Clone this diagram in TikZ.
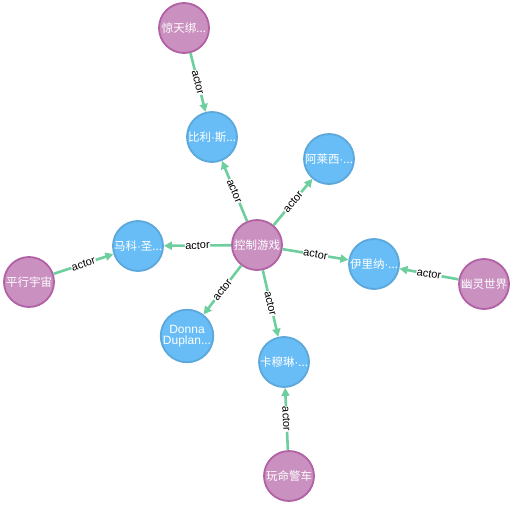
\documentclass[tikz,border=0pt]{standalone}
\usepackage{fontspec}
\setmainfont{Liberation Sans}
\newfontfamily\cjk{Noto Sans CJK SC}
\newfontfamily\latf{Liberation Sans}
\newcommand{\mdot}{{\latf ·}}
\usetikzlibrary{arrows.meta}
\definecolor{pfill}{HTML}{C990C0}
\definecolor{pdraw}{HTML}{B261A5}
\definecolor{bfill}{HTML}{68BDF6}
\definecolor{bdraw}{HTML}{5CA8DB}
\definecolor{edgec}{HTML}{6DCE9E}
\tikzset{
  movie/.style={circle, minimum size=50pt, inner sep=0pt, fill=pfill, draw=pdraw, line width=1.8pt, text=white, font=\cjk\fontsize{11.5}{12}\selectfont},
  person/.style={circle, minimum size=50pt, inner sep=0pt, fill=bfill, draw=bdraw, line width=1.8pt, text=white, font=\cjk\fontsize{11.5}{12}\selectfont},
  rel/.style={draw=edgec, line width=2.6pt, -{Triangle[length=8pt,width=8pt]}},
  lbl/.style={midway, sloped, fill=white, inner sep=0.5pt, font=\fontsize{11}{12}\selectfont, text=black}
}
\begin{document}
\begin{tikzpicture}[x=1pt,y=-1pt]
\useasboundingbox[fill=white] (0,0) rectangle (513,505);
\node[movie] (kz) at (257,245) {控制游戏};
\node[movie] (jt) at (184,28) {惊天绑...};
\node[person] (bl) at (212,137) {比利\mdot 斯...};
\node[person] (al) at (329,159) {阿莱西\mdot ...};
\node[person] (mk) at (138,246) {马科\mdot 圣...};
\node[movie] (px) at (29,282) {平行宇宙};
\node[person] (yl) at (374,264) {伊里纳\mdot ...};
\node[movie] (yw) at (484,284) {幽灵世界};
\node[person, align=center, font=\fontsize{12}{11}\selectfont] (dd) at (187,336) {Donna\\Duplan...};
\node[person] (km) at (284,362) {卡穆琳\mdot ...};
\node[movie] (wm) at (289,476) {玩命警车};

\draw[rel] (jt) -- node[lbl] {actor} (bl);
\draw[rel] (kz) -- node[lbl] {actor} (bl);
\draw[rel] (kz) -- node[lbl] {actor} (al);
\draw[rel] (kz) -- node[lbl] {actor} (mk);
\draw[rel] (kz) -- node[lbl] {actor} (yl);
\draw[rel] (kz) -- node[lbl] {actor} (dd);
\draw[rel] (kz) -- node[lbl] {actor} (km);
\draw[rel] (px) -- node[lbl] {actor} (mk);
\draw[rel] (yw) -- node[lbl] {actor} (yl);
\draw[rel] (wm) -- node[lbl] {actor} (km);
\end{tikzpicture}
\end{document}
